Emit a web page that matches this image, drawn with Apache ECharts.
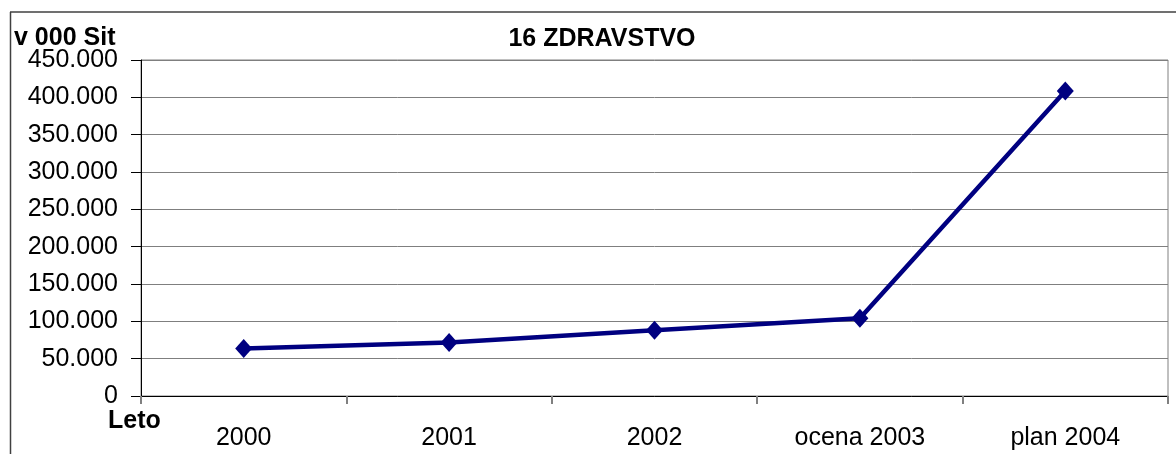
<!DOCTYPE html>
<html>
<head>
<meta charset="utf-8">
<script src="https://cdn.jsdelivr.net/npm/echarts@6/dist/echarts.min.js"></script>
<style>
html,body{margin:0;padding:0;background:#fff;}
#c{width:1176px;height:454px;}
</style>
</head>
<body>
<div id="c"></div>
<script>
const categories = ['2000', '2001', '2002', 'ocena 2003', 'plan 2004'];
const values = [63500, 71500, 88000, 104000, 408500];
const yTicks = { min: 0, max: 450000, interval: 50000 };
const titleText = '16 ZDRAVSTVO';
const yUnit = 'v 000 Sit';
const xName = 'Leto';

const font = '"Liberation Sans", Arial, sans-serif';
const chart = echarts.init(document.getElementById('c'), null, { renderer: 'canvas' });

function fmt(v) {
  if (v === 0) return '0';
  const s = String(Math.round(v));
  return s.replace(/\B(?=(\d{3})+(?!\d))/g, '.');
}

chart.setOption({
  animation: false,
  backgroundColor: '#ffffff',
  title: {
    text: titleText,
    left: 597,
    top: 22,
    textAlign: 'center',
    textStyle: { fontFamily: font, fontWeight: 'bold', fontSize: 25, color: '#000' }
  },
  grid: {
    left: 141, right: 8, top: 60, bottom: 58,
    show: true, borderColor: '#808080', borderWidth: 1
  },
  xAxis: {
    type: 'category',
    data: categories,
    boundaryGap: true,
    axisLine: { lineStyle: { color: '#000', width: 1 } },
    axisTick: { show: true, alignWithLabel: false, length: 8, lineStyle: { color: '#808080', width: 2 } },
    axisLabel: { margin: 30, fontFamily: font, fontSize: 25, color: '#000' },
    splitLine: { show: false }
  },
  yAxis: {
    type: 'value',
    min: yTicks.min, max: yTicks.max, interval: yTicks.interval,
    axisLine: { show: true, lineStyle: { color: '#000', width: 1 } },
    axisTick: { show: true, length: 10, lineStyle: { color: '#000' } },
    axisLabel: { margin: 23, fontFamily: font, fontSize: 25, color: '#000', formatter: fmt },
    splitLine: { show: true, lineStyle: { color: '#7f7f7f', width: 1 } }
  },
  graphic: [
    { type: 'line', shape: { x1: 10.5, y1: 12, x2: 10.5, y2: 454 }, style: { stroke: '#404040', lineWidth: 1.5 } },
    { type: 'line', shape: { x1: 10, y1: 12, x2: 1176, y2: 12 }, style: { stroke: '#404040', lineWidth: 1.5 } },
    { type: 'text', left: 14, top: 26, style: { text: yUnit, font: 'bold 25px "Liberation Sans", Arial, sans-serif', fill: '#000' } },
    { type: 'text', left: 108, top: 409, style: { text: xName, font: 'bold 25px "Liberation Sans", Arial, sans-serif', fill: '#000' } }
  ],
  series: [{
    type: 'line',
    data: values,
    symbol: 'diamond',
    symbolSize: [17, 19],
    itemStyle: { color: '#000080' },
    lineStyle: { color: '#000080', width: 4.5 },
    z: 5
  }]
});
</script>
</body>
</html>
